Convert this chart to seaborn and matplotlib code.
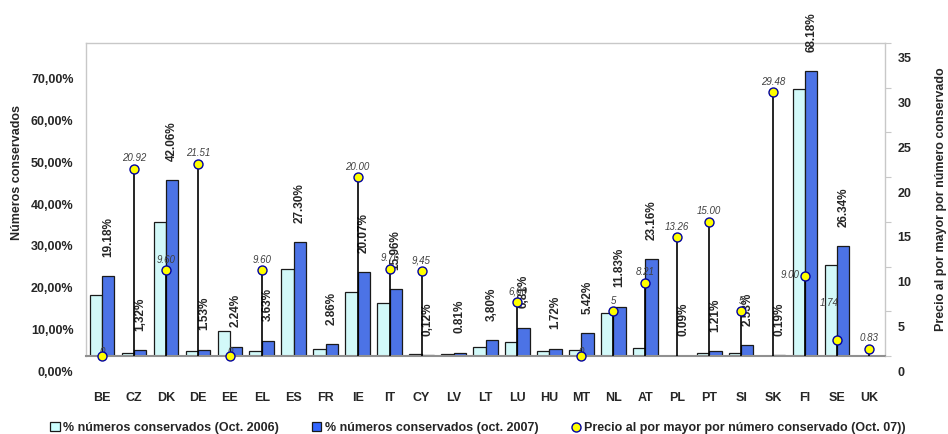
import numpy as np
import pandas as pd
import matplotlib; matplotlib.use('Agg')
import matplotlib.pyplot as plt
import matplotlib.transforms as mtransforms
from matplotlib.patches import Patch
from matplotlib.lines import Line2D
import seaborn as sns

# --- data ------------------------------------------------------------------
COUNTRIES = ['BE', 'CZ', 'DK', 'DE', 'EE', 'EL', 'ES', 'FR', 'IE', 'IT', 'CY', 'LV', 'LT',
             'LU', 'HU', 'MT', 'NL', 'AT', 'PL', 'PT', 'SI', 'SK', 'FI', 'SE', 'UK']
PCT_2006 = [14.6, 0.7, 32.2, 1.2, 6.1, 1.2, 20.9, 1.7, 15.3, 12.7, 0.5, 0.5, 2.2,
            3.3, 1.2, 1.5, 10.3, 1.8, 0.05, 0.8, 0.7, 0.1, 64.0, 21.8, np.nan]
PCT_2007 = [19.18, 1.32, 42.06, 1.53, 2.24, 3.63, 27.30, 2.86, 20.07, 15.96, 0.12, 0.81, 3.80,
            6.81, 1.72, 5.42, 11.83, 23.16, 0.09, 1.21, 2.53, 0.19, 68.18, 26.34, np.nan]
PCT_2007_LABELS = ['19.18%', '1,32%', '42.06%', '1.53%', '2.24%', '3.63%', '27.30%', '2.86%',
                   '20.07%', '15.96%', '0,12%', '0.81%', '3,80%', '6,81%', '1.72%', '5.42%',
                   '11.83%', '23.16%', '0.09%', '1.21%', '2.53%', '0.19%', '68.18%', '26.34%', '']
PRICE = [0, 20.92, 9.60, 21.51, 0, 9.60, np.nan, np.nan, 20.00, 9.76, 9.45, np.nan, np.nan,
         6.00, np.nan, 0, 5.0, 8.21, 13.26, 15.00, 5.0, 29.48, 9.00, 1.74, 0.83]
PRICE_LABELS = ['0', '20.92', '9.60', '21.51', '0', '9.60', '', '', '20.00', '9.76', '9,45', '', '',
                '6,00', '', '0', '5', '8.21', '13.26', '15.00', '5', '29.48', '9.00', '1.74', '0.83']

S06 = '% números conservados (Oct. 2006)'
S07 = '% números conservados (oct. 2007)'
S_PRICE = 'Precio al por mayor por número conservado (Oct. 07))'
C06, C07 = '#CCFFFF', '#3366FF'

sns.set_style('white')
plt.rcParams['font.family'] = ['Liberation Sans', 'DejaVu Sans']

df = pd.DataFrame({'country': COUNTRIES * 2,
                   'serie': [S06] * len(COUNTRIES) + [S07] * len(COUNTRIES),
                   'pct': PCT_2006 + PCT_2007})

fig = plt.figure(figsize=(9.48, 4.34), dpi=100)
ax = fig.add_axes([86/948, 1-356/434, 799/948, 313/434])

sns.barplot(data=df, x='country', y='pct', hue='serie', order=COUNTRIES,
            hue_order=[S06, S07], palette=[C06, C07], width=0.77, gap=0,
            errorbar=None, edgecolor='#1a1a1a', linewidth=0.9, ax=ax)
ax.get_legend().remove()
ax.set_xlim(-0.5, len(COUNTRIES) - 0.5)
ax.set_ylim(0, 75)
ax.set_yticks(np.arange(0, 71, 10))
ax.set_yticklabels([f'{v},00%' for v in range(0, 71, 10)], fontsize=9, fontweight='bold')
ax.set_xticks(range(len(COUNTRIES)))
ax.set_xticklabels(COUNTRIES, fontsize=9, fontweight='bold')
ax.tick_params(axis='x', length=0, pad=26)
ax.tick_params(axis='y', length=0, pad=9)
ax.set_xlabel('')
ax.set_ylabel('Números conservados', fontsize=9, fontweight='bold')
ax.yaxis.set_label_coords(-0.079, 0.585)
for side in ['left', 'top', 'right']:
    ax.spines[side].set_color('#c8c8c8')
    ax.spines[side].set_linewidth(1.0)
ax.spines['bottom'].set_color('#909090')
ax.spines['bottom'].set_linewidth(1.5)

# 2007 value labels above the dark bars
for i, (v, lab) in enumerate(zip(PCT_2007, PCT_2007_LABELS)):
    if lab:
        ax.annotate(lab, (i + 0.19, v), xytext=(0, 14), textcoords='offset points',
                    rotation=90, ha='center', va='bottom', fontsize=8.5, fontweight='bold')

# price series on secondary axis
ax2 = ax.twinx()
ax2.set_ylim(0, 35)
ax2.set_yticks(np.arange(0, 36, 5))
ax2.set_yticklabels([str(v) for v in range(0, 36, 5)], fontsize=9, fontweight='bold')
ax2.tick_params(axis='y', direction='out', length=4, color='#c8c8c8', pad=5)
for side in ax2.spines:
    ax2.spines[side].set_visible(False)
ax2.set_ylabel('Precio al por mayor por número conservado', fontsize=9, fontweight='bold')
ax2.yaxis.set_label_coords(1.062, 0.5)

xs = np.arange(len(COUNTRIES))
price = np.array(PRICE, dtype=float)
ok = ~np.isnan(price)
ax2.vlines(xs[ok], 0, price[ok], color='black', lw=1.2, zorder=3)
sns.scatterplot(x=xs[ok], y=price[ok], ax=ax2, s=42, color='#FFFF00',
                edgecolor='#0000A0', linewidth=1.0, zorder=5, legend=False, clip_on=False)

label_offsets = {'FI': (-4, -3, 'right'), 'SE': (-6, 23, 'center'),
                 'BE': (0, -1, 'center'), 'EE': (0, -1, 'center'), 'MT': (0, -1, 'center')}
for i, (c, v, lab) in enumerate(zip(COUNTRIES, PRICE, PRICE_LABELS)):
    if not lab:
        continue
    dx, dy, ha = label_offsets.get(c, (0, 4, 'center'))
    ax2.annotate(lab, (i, v), xytext=(dx, dy), textcoords='offset points', ha=ha,
                 va='bottom', fontsize=7, style='italic', color='#404040', zorder=4)

# tick labels sit ~15 px below their ticks in the reference
shift = mtransforms.ScaledTranslation(0, -0.15, fig.dpi_scale_trans)
for lab in ax.get_yticklabels() + ax2.get_yticklabels():
    lab.set_transform(lab.get_transform() + shift)

handles = [Patch(facecolor=C06, edgecolor='#1a1a1a', linewidth=0.9),
           Patch(facecolor=C07, edgecolor='#1a1a1a', linewidth=0.9),
           Line2D([], [], ls='', marker='o', markersize=6.5, markerfacecolor='#FFFF00',
                  markeredgecolor='#0000A0', markeredgewidth=1.0)]
fig.legend(handles, [S06, S07, S_PRICE], ncol=3, loc='center',
           bbox_to_anchor=(478/948, 1-428/434), frameon=False,
           prop={'size': 9, 'weight': 'bold'}, handlelength=0.75, handleheight=0.75,
           handletextpad=0.3, columnspacing=2.6, borderpad=0)

fig.savefig('out.png', dpi=100)
